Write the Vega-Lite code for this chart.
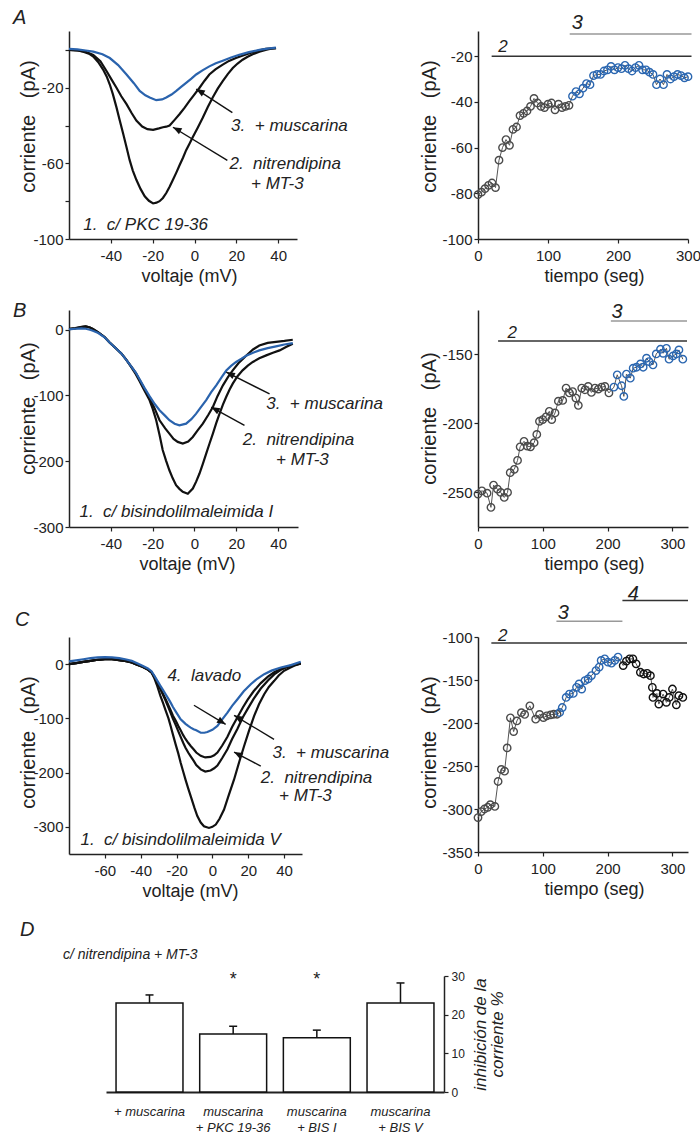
{
  "$schema": "https://vega.github.io/schema/vega-lite/v6.json",
  "background": "white",
  "padding": {"left": 13, "top": 8, "right": 5, "bottom": 5},
  "config": {
    "locale": {"number": {"decimal": ".", "thousands": ",", "grouping": [3], "currency": ["$", ""], "minus": "-"}},
    "font": "Liberation Sans",
    "view": {"stroke": null},
    "axis": {"grid": false, "domainColor": "#222", "domainWidth": 1.5, "tickColor": "#222", "tickWidth": 1.2, "tickSize": 4,
      "labelColor": "#222", "labelFontSize": 15, "labelFont": "Liberation Sans", "titleFont": "Liberation Sans",
      "titleColor": "#222", "titleFontWeight": "normal", "titleFontSize": 18, "labelFlush": false, "labelOverlap": false},
    "axisX": {"labelPadding": 5, "titlePadding": 4},
    "axisY": {"labelPadding": 2, "titlePadding": 2, "titleFontSize": 20},
    "title": {"font": "Liberation Sans", "fontWeight": "normal", "fontStyle": "italic", "color": "#222", "anchor": "start", "frame": "group", "baseline": "alphabetic"},
    "text": {"font": "Liberation Sans", "color": "#222"}
  },
  "datasets": {
    "ivA": [
      {"c":"1","v":-60,"i":0},{"c":"1","v":-56,"i":-0.3},{"c":"1","v":-53.2,"i":-0.9},{"c":"1","v":-50.5,"i":-2},{"c":"1","v":-48.4,"i":-3.5},{"c":"1","v":-46,"i":-6.5},{"c":"1","v":-43.7,"i":-10.4},{"c":"1","v":-42,"i":-14},{"c":"1","v":-40.5,"i":-18.3},{"c":"1","v":-39,"i":-23.5},{"c":"1","v":-37.3,"i":-30.4},{"c":"1","v":-35.7,"i":-37.5},{"c":"1","v":-34.1,"i":-44.3},{"c":"1","v":-32.5,"i":-51.5},{"c":"1","v":-31,"i":-58.3},{"c":"1","v":-29.5,"i":-63.8},{"c":"1","v":-27.8,"i":-68.7},{"c":"1","v":-25.8,"i":-73.5},{"c":"1","v":-23.8,"i":-77.4},{"c":"1","v":-21.8,"i":-79.8},{"c":"1","v":-19.8,"i":-81.2},{"c":"1","v":-18.2,"i":-80.8},{"c":"1","v":-16.7,"i":-80},{"c":"1","v":-15.1,"i":-78.3},{"c":"1","v":-13.5,"i":-75.7},{"c":"1","v":-11.9,"i":-72.4},{"c":"1","v":-10.3,"i":-68.7},{"c":"1","v":-8.7,"i":-64.9},{"c":"1","v":-7.1,"i":-60.9},{"c":"1","v":-5.5,"i":-57},{"c":"1","v":-4,"i":-53},{"c":"1","v":-2.4,"i":-49.6},{"c":"1","v":-0.8,"i":-46.1},{"c":"1","v":1.6,"i":-41},{"c":"1","v":4,"i":-35.7},{"c":"1","v":6.3,"i":-30.3},{"c":"1","v":8.7,"i":-25.2},{"c":"1","v":11.1,"i":-20.5},{"c":"1","v":13.5,"i":-16.5},{"c":"1","v":15.9,"i":-12.8},{"c":"1","v":18.3,"i":-9.6},{"c":"1","v":20.6,"i":-7.2},{"c":"1","v":23,"i":-5.2},{"c":"1","v":25.4,"i":-3.6},{"c":"1","v":27.8,"i":-2.3},{"c":"1","v":31,"i":-1},{"c":"1","v":34,"i":0},{"c":"1","v":36.5,"i":0.6},{"c":"1","v":39,"i":0.9},
      {"c":"2","v":-60,"i":0},{"c":"2","v":-56,"i":-0.2},{"c":"2","v":-52,"i":-1},{"c":"2","v":-48.4,"i":-2.6},{"c":"2","v":-45,"i":-6},{"c":"2","v":-42,"i":-11.3},{"c":"2","v":-39.5,"i":-16},{"c":"2","v":-37.3,"i":-20},{"c":"2","v":-35,"i":-24.5},{"c":"2","v":-32.5,"i":-28.7},{"c":"2","v":-30,"i":-33.5},{"c":"2","v":-27.8,"i":-37.4},{"c":"2","v":-25,"i":-40.5},{"c":"2","v":-22.5,"i":-41.9},{"c":"2","v":-19.8,"i":-42.3},{"c":"2","v":-17,"i":-41.5},{"c":"2","v":-15.1,"i":-40.9},{"c":"2","v":-13.5,"i":-40.6},{"c":"2","v":-11.9,"i":-40},{"c":"2","v":-9.5,"i":-37},{"c":"2","v":-7.1,"i":-33.9},{"c":"2","v":-4.7,"i":-30.5},{"c":"2","v":-2.4,"i":-27},{"c":"2","v":0,"i":-23.5},{"c":"2","v":2.4,"i":-20},{"c":"2","v":4.8,"i":-16.3},{"c":"2","v":7.1,"i":-13},{"c":"2","v":10,"i":-10.3},{"c":"2","v":13.5,"i":-7.8},{"c":"2","v":16.5,"i":-5.8},{"c":"2","v":19.8,"i":-4.3},{"c":"2","v":23.5,"i":-2.8},{"c":"2","v":27.8,"i":-1.2},{"c":"2","v":31,"i":-0.2},{"c":"2","v":34,"i":0.5},{"c":"2","v":38.9,"i":0.9},
      {"c":"3","v":-60,"i":0.5},{"c":"3","v":-56,"i":0.3},{"c":"3","v":-52,"i":-0.3},{"c":"3","v":-48.4,"i":-0.9},{"c":"3","v":-44,"i":-2.3},{"c":"3","v":-40.5,"i":-4.3},{"c":"3","v":-36.5,"i":-8},{"c":"3","v":-32.5,"i":-13},{"c":"3","v":-29,"i":-17.6},{"c":"3","v":-26.2,"i":-21.7},{"c":"3","v":-23.5,"i":-24},{"c":"3","v":-21.4,"i":-25.2},{"c":"3","v":-18.3,"i":-26.6},{"c":"3","v":-15.5,"i":-26.2},{"c":"3","v":-13.5,"i":-25.2},{"c":"3","v":-11,"i":-23.6},{"c":"3","v":-8.7,"i":-21.7},{"c":"3","v":-6.4,"i":-19.6},{"c":"3","v":-4,"i":-17.4},{"c":"3","v":-1.5,"i":-15.2},{"c":"3","v":0.8,"i":-13},{"c":"3","v":4,"i":-10.7},{"c":"3","v":7.1,"i":-8.7},{"c":"3","v":10.2,"i":-7.1},{"c":"3","v":13.5,"i":-5.7},{"c":"3","v":17.5,"i":-4},{"c":"3","v":21.4,"i":-2.6},{"c":"3","v":26,"i":-1.2},{"c":"3","v":31,"i":0},{"c":"3","v":35,"i":0.7},{"c":"3","v":38.9,"i":1.2}
    ],
    "ivB": [
      {"c":"1","v":-60,"i":1},{"c":"1","v":-57,"i":2},{"c":"1","v":-54,"i":4},{"c":"1","v":-52,"i":5},{"c":"1","v":-50,"i":3.5},{"c":"1","v":-48.6,"i":1},{"c":"1","v":-46,"i":-4},{"c":"1","v":-43,"i":-11},{"c":"1","v":-40.7,"i":-19},{"c":"1","v":-38,"i":-27},{"c":"1","v":-35,"i":-36},{"c":"1","v":-32.7,"i":-45},{"c":"1","v":-30,"i":-58},{"c":"1","v":-28,"i":-68},{"c":"1","v":-26.3,"i":-78},{"c":"1","v":-24,"i":-92},{"c":"1","v":-21.5,"i":-107},{"c":"1","v":-20,"i":-120},{"c":"1","v":-18.3,"i":-137.7},{"c":"1","v":-16.7,"i":-160},{"c":"1","v":-15.2,"i":-183},{"c":"1","v":-13.6,"i":-199},{"c":"1","v":-12,"i":-213.7},{"c":"1","v":-10.4,"i":-226},{"c":"1","v":-8.8,"i":-236.5},{"c":"1","v":-7.2,"i":-242},{"c":"1","v":-5.6,"i":-246.6},{"c":"1","v":-3.2,"i":-249.5},{"c":"1","v":-0.8,"i":-241.5},{"c":"1","v":0.8,"i":-231},{"c":"1","v":2.4,"i":-218.7},{"c":"1","v":4,"i":-204},{"c":"1","v":5.6,"i":-188.4},{"c":"1","v":7.2,"i":-173},{"c":"1","v":8.8,"i":-158},{"c":"1","v":10.4,"i":-142},{"c":"1","v":12,"i":-127.6},{"c":"1","v":13.6,"i":-114},{"c":"1","v":15.2,"i":-102},{"c":"1","v":16.8,"i":-91},{"c":"1","v":18.3,"i":-82},{"c":"1","v":20.5,"i":-71},{"c":"1","v":23,"i":-61.8},{"c":"1","v":25.5,"i":-54.5},{"c":"1","v":27.9,"i":-49},{"c":"1","v":31,"i":-43.5},{"c":"1","v":34.3,"i":-39},{"c":"1","v":37.5,"i":-35},{"c":"1","v":40.7,"i":-31.4},{"c":"1","v":44,"i":-26},{"c":"1","v":47,"i":-21.3},
      {"c":"2","v":-60,"i":1.5},{"c":"2","v":-57,"i":2.5},{"c":"2","v":-54,"i":4.5},{"c":"2","v":-52,"i":5},{"c":"2","v":-50,"i":3.5},{"c":"2","v":-48.6,"i":1},{"c":"2","v":-46,"i":-4},{"c":"2","v":-43,"i":-11},{"c":"2","v":-40.7,"i":-19},{"c":"2","v":-38,"i":-27},{"c":"2","v":-35,"i":-36},{"c":"2","v":-32.7,"i":-45.5},{"c":"2","v":-30,"i":-57},{"c":"2","v":-28,"i":-66},{"c":"2","v":-26.3,"i":-76},{"c":"2","v":-24,"i":-89},{"c":"2","v":-21.5,"i":-104},{"c":"2","v":-19,"i":-120},{"c":"2","v":-16.7,"i":-137.7},{"c":"2","v":-14,"i":-150},{"c":"2","v":-12,"i":-158},{"c":"2","v":-10,"i":-166},{"c":"2","v":-8,"i":-170.6},{"c":"2","v":-5.6,"i":-173},{"c":"2","v":-3,"i":-170},{"c":"2","v":-0.8,"i":-163},{"c":"2","v":1.5,"i":-153},{"c":"2","v":4,"i":-142.8},{"c":"2","v":6.5,"i":-130},{"c":"2","v":8.8,"i":-117.5},{"c":"2","v":11,"i":-101},{"c":"2","v":13.6,"i":-84.6},{"c":"2","v":16,"i":-72},{"c":"2","v":18.3,"i":-61.8},{"c":"2","v":21,"i":-51},{"c":"2","v":24.7,"i":-39.5},{"c":"2","v":28,"i":-30},{"c":"2","v":31,"i":-24},{"c":"2","v":35,"i":-20},{"c":"2","v":39,"i":-18.5},{"c":"2","v":43,"i":-17},{"c":"2","v":47,"i":-15.2},
      {"c":"3","v":-60,"i":0.5},{"c":"3","v":-57,"i":1.5},{"c":"3","v":-54,"i":2},{"c":"3","v":-52,"i":1.5},{"c":"3","v":-50,"i":0},{"c":"3","v":-48.6,"i":-1.5},{"c":"3","v":-46,"i":-5},{"c":"3","v":-43,"i":-11.5},{"c":"3","v":-40.7,"i":-19},{"c":"3","v":-38,"i":-27},{"c":"3","v":-35,"i":-36},{"c":"3","v":-32.7,"i":-45.5},{"c":"3","v":-30,"i":-57},{"c":"3","v":-28,"i":-65.5},{"c":"3","v":-26.3,"i":-75},{"c":"3","v":-24,"i":-88},{"c":"3","v":-21.5,"i":-101},{"c":"3","v":-19,"i":-113},{"c":"3","v":-16.7,"i":-122.5},{"c":"3","v":-14,"i":-131},{"c":"3","v":-12,"i":-137.7},{"c":"3","v":-9.5,"i":-143},{"c":"3","v":-7.2,"i":-145.3},{"c":"3","v":-4,"i":-142.8},{"c":"3","v":-1.5,"i":-136},{"c":"3","v":0.8,"i":-127.6},{"c":"3","v":3,"i":-118},{"c":"3","v":5.6,"i":-107},{"c":"3","v":8,"i":-95},{"c":"3","v":10.4,"i":-84.6},{"c":"3","v":13,"i":-72},{"c":"3","v":15.2,"i":-62},{"c":"3","v":17.5,"i":-55},{"c":"3","v":19.9,"i":-49},{"c":"3","v":22.5,"i":-44},{"c":"3","v":24.7,"i":-39.5},{"c":"3","v":28,"i":-35},{"c":"3","v":31,"i":-31.4},{"c":"3","v":35,"i":-28},{"c":"3","v":39,"i":-25.3},{"c":"3","v":43,"i":-22.5},{"c":"3","v":47,"i":-20.3}
    ],
    "ivC": [
      {"c":"1","v":-80,"i":0},{"c":"1","v":-76,"i":2},{"c":"1","v":-72,"i":4},{"c":"1","v":-68,"i":6},{"c":"1","v":-64,"i":8},{"c":"1","v":-60,"i":9},{"c":"1","v":-56,"i":9},{"c":"1","v":-52,"i":7.5},{"c":"1","v":-48,"i":5.5},{"c":"1","v":-45,"i":3},{"c":"1","v":-42,"i":-1},{"c":"1","v":-39,"i":-5},{"c":"1","v":-36,"i":-10},{"c":"1","v":-34,"i":-15},{"c":"1","v":-32.5,"i":-25},{"c":"1","v":-31,"i":-38},{"c":"1","v":-29,"i":-58.5},{"c":"1","v":-27.5,"i":-72},{"c":"1","v":-26,"i":-86},{"c":"1","v":-24.5,"i":-100},{"c":"1","v":-23.3,"i":-114},{"c":"1","v":-22,"i":-130},{"c":"1","v":-20.5,"i":-148},{"c":"1","v":-19,"i":-165},{"c":"1","v":-17.7,"i":-181.8},{"c":"1","v":-16.3,"i":-198},{"c":"1","v":-15,"i":-213},{"c":"1","v":-13.5,"i":-229},{"c":"1","v":-12.1,"i":-243.4},{"c":"1","v":-10,"i":-265},{"c":"1","v":-8.4,"i":-280},{"c":"1","v":-6.5,"i":-292},{"c":"1","v":-4.7,"i":-298.8},{"c":"1","v":-1.9,"i":-302},{"c":"1","v":0,"i":-300},{"c":"1","v":1.9,"i":-295.7},{"c":"1","v":4,"i":-285},{"c":"1","v":6.5,"i":-268},{"c":"1","v":9,"i":-243},{"c":"1","v":12.1,"i":-212.6},{"c":"1","v":15,"i":-180},{"c":"1","v":17.7,"i":-151},{"c":"1","v":20.5,"i":-122},{"c":"1","v":23.3,"i":-95.5},{"c":"1","v":26,"i":-74},{"c":"1","v":28.9,"i":-55.5},{"c":"1","v":31.5,"i":-42},{"c":"1","v":34.5,"i":-30.8},{"c":"1","v":37,"i":-21},{"c":"1","v":40,"i":-12.3},{"c":"1","v":43,"i":-7},{"c":"1","v":45.6,"i":-3},{"c":"1","v":49.3,"i":1.2},
      {"c":"2","v":-80,"i":0},{"c":"2","v":-76,"i":2},{"c":"2","v":-72,"i":4},{"c":"2","v":-68,"i":6},{"c":"2","v":-64,"i":8},{"c":"2","v":-60,"i":9},{"c":"2","v":-56,"i":9},{"c":"2","v":-52,"i":7.5},{"c":"2","v":-48,"i":5.5},{"c":"2","v":-45,"i":3},{"c":"2","v":-42,"i":-1},{"c":"2","v":-39,"i":-5},{"c":"2","v":-36,"i":-10},{"c":"2","v":-34,"i":-15},{"c":"2","v":-32.5,"i":-23},{"c":"2","v":-31,"i":-33},{"c":"2","v":-29,"i":-46},{"c":"2","v":-27.5,"i":-57},{"c":"2","v":-26,"i":-68},{"c":"2","v":-24.5,"i":-80},{"c":"2","v":-23.3,"i":-90},{"c":"2","v":-22,"i":-101},{"c":"2","v":-20.5,"i":-112},{"c":"2","v":-19,"i":-124},{"c":"2","v":-17.7,"i":-134},{"c":"2","v":-16.3,"i":-145},{"c":"2","v":-15,"i":-154},{"c":"2","v":-13.5,"i":-163},{"c":"2","v":-12.1,"i":-170},{"c":"2","v":-10.5,"i":-178},{"c":"2","v":-9,"i":-186},{"c":"2","v":-6.5,"i":-194},{"c":"2","v":-4,"i":-198},{"c":"2","v":-1,"i":-196},{"c":"2","v":1,"i":-192},{"c":"2","v":2.8,"i":-187},{"c":"2","v":5.5,"i":-173},{"c":"2","v":8.4,"i":-157},{"c":"2","v":11,"i":-138},{"c":"2","v":14,"i":-119},{"c":"2","v":17,"i":-98},{"c":"2","v":19.6,"i":-83},{"c":"2","v":23,"i":-64},{"c":"2","v":27,"i":-45},{"c":"2","v":31,"i":-30},{"c":"2","v":34.5,"i":-19},{"c":"2","v":38,"i":-11},{"c":"2","v":41.9,"i":-5},{"c":"2","v":46,"i":-1.5},{"c":"2","v":49.3,"i":1},
      {"c":"4","v":-80,"i":0},{"c":"4","v":-76,"i":2},{"c":"4","v":-72,"i":4},{"c":"4","v":-68,"i":6},{"c":"4","v":-64,"i":8},{"c":"4","v":-60,"i":9},{"c":"4","v":-56,"i":9},{"c":"4","v":-52,"i":7.5},{"c":"4","v":-48,"i":5.5},{"c":"4","v":-45,"i":3},{"c":"4","v":-42,"i":-1},{"c":"4","v":-39,"i":-5},{"c":"4","v":-36,"i":-10},{"c":"4","v":-34,"i":-15},{"c":"4","v":-32.5,"i":-22},{"c":"4","v":-31,"i":-32},{"c":"4","v":-29,"i":-45},{"c":"4","v":-27.5,"i":-55},{"c":"4","v":-26,"i":-65},{"c":"4","v":-24.5,"i":-76},{"c":"4","v":-23.3,"i":-85},{"c":"4","v":-22,"i":-95},{"c":"4","v":-20.5,"i":-104},{"c":"4","v":-19,"i":-114},{"c":"4","v":-17.7,"i":-122},{"c":"4","v":-16.3,"i":-131},{"c":"4","v":-15,"i":-138},{"c":"4","v":-13.5,"i":-145},{"c":"4","v":-12.1,"i":-151},{"c":"4","v":-10.5,"i":-157},{"c":"4","v":-9,"i":-163},{"c":"4","v":-6.5,"i":-169},{"c":"4","v":-4,"i":-172},{"c":"4","v":-1,"i":-171},{"c":"4","v":1,"i":-168},{"c":"4","v":2.8,"i":-163},{"c":"4","v":5.5,"i":-150},{"c":"4","v":8.4,"i":-134},{"c":"4","v":11,"i":-116},{"c":"4","v":14,"i":-98},{"c":"4","v":17,"i":-80},{"c":"4","v":19.6,"i":-66},{"c":"4","v":23,"i":-50},{"c":"4","v":27,"i":-35},{"c":"4","v":31,"i":-23},{"c":"4","v":34.5,"i":-15},{"c":"4","v":38,"i":-9},{"c":"4","v":41.9,"i":-4.3},{"c":"4","v":46,"i":-1},{"c":"4","v":49.3,"i":2},
      {"c":"3","v":-80,"i":5},{"c":"3","v":-76,"i":7},{"c":"3","v":-72,"i":9},{"c":"3","v":-68,"i":11},{"c":"3","v":-64,"i":12.5},{"c":"3","v":-60,"i":13},{"c":"3","v":-56,"i":12.5},{"c":"3","v":-52,"i":11},{"c":"3","v":-48,"i":8.5},{"c":"3","v":-45,"i":6},{"c":"3","v":-42,"i":1.5},{"c":"3","v":-39,"i":-3},{"c":"3","v":-36,"i":-8},{"c":"3","v":-34,"i":-13},{"c":"3","v":-32.6,"i":-20},{"c":"3","v":-31,"i":-29},{"c":"3","v":-29,"i":-40},{"c":"3","v":-27.5,"i":-48},{"c":"3","v":-26,"i":-56},{"c":"3","v":-24.5,"i":-64},{"c":"3","v":-23.3,"i":-71},{"c":"3","v":-22,"i":-79},{"c":"3","v":-20.5,"i":-87},{"c":"3","v":-19,"i":-95},{"c":"3","v":-17.7,"i":-101.7},{"c":"3","v":-16.3,"i":-106},{"c":"3","v":-15,"i":-110},{"c":"3","v":-13.5,"i":-114},{"c":"3","v":-12.1,"i":-117},{"c":"3","v":-10.5,"i":-120},{"c":"3","v":-9,"i":-122},{"c":"3","v":-6.5,"i":-126.3},{"c":"3","v":-4.5,"i":-126.5},{"c":"3","v":-2.8,"i":-125},{"c":"3","v":0,"i":-121},{"c":"3","v":2.8,"i":-114},{"c":"3","v":5.5,"i":-102},{"c":"3","v":8.4,"i":-89.3},{"c":"3","v":11,"i":-77},{"c":"3","v":14,"i":-64.7},{"c":"3","v":17.5,"i":-50},{"c":"3","v":21.4,"i":-37},{"c":"3","v":25,"i":-27},{"c":"3","v":28.9,"i":-18.5},{"c":"3","v":33,"i":-12},{"c":"3","v":38.2,"i":-6.2},{"c":"3","v":43.8,"i":-1.8},{"c":"3","v":49.3,"i":4.3}
    ],
    "tA": [
      {"p":"g","t":0,"i":-80.6},{"p":"g","t":5,"i":-79.5},{"p":"g","t":10,"i":-78},{"p":"g","t":15,"i":-76.5},{"p":"g","t":20,"i":-75.5},{"p":"g","t":25,"i":-77.5},{"p":"g","t":30,"i":-65.5},{"p":"g","t":35,"i":-60},{"p":"g","t":40,"i":-56.5},{"p":"g","t":45,"i":-59},{"p":"g","t":50,"i":-52},{"p":"g","t":55,"i":-51},{"p":"g","t":60,"i":-46},{"p":"g","t":65,"i":-45},{"p":"g","t":70,"i":-44},{"p":"g","t":75,"i":-42},{"p":"g","t":80,"i":-38.5},{"p":"g","t":85,"i":-40.5},{"p":"g","t":90,"i":-42},{"p":"g","t":95,"i":-42.5},{"p":"g","t":100,"i":-41},{"p":"g","t":105,"i":-40.5},{"p":"g","t":110,"i":-43.5},{"p":"g","t":115,"i":-41},{"p":"g","t":120,"i":-42.5},{"p":"g","t":125,"i":-42},{"p":"g","t":130,"i":-41.5},
      {"p":"b","t":135,"i":-37.5},{"p":"b","t":140,"i":-35.5},{"p":"b","t":145,"i":-36.5},{"p":"b","t":150,"i":-34},{"p":"b","t":155,"i":-32},{"p":"b","t":160,"i":-32.5},{"p":"b","t":165,"i":-28.5},{"p":"b","t":170,"i":-28},{"p":"b","t":175,"i":-28},{"p":"b","t":180,"i":-26.5},{"p":"b","t":185,"i":-26},{"p":"b","t":190,"i":-24.5},{"p":"b","t":195,"i":-26},{"p":"b","t":200,"i":-25},{"p":"b","t":205,"i":-25.5},{"p":"b","t":210,"i":-24},{"p":"b","t":215,"i":-25.5},{"p":"b","t":220,"i":-26.5},{"p":"b","t":225,"i":-25},{"p":"b","t":230,"i":-24},{"p":"b","t":235,"i":-26},{"p":"b","t":240,"i":-26},{"p":"b","t":245,"i":-27},{"p":"b","t":250,"i":-28},{"p":"b","t":255,"i":-32.5},{"p":"b","t":260,"i":-30},{"p":"b","t":265,"i":-32.5},{"p":"b","t":270,"i":-28},{"p":"b","t":275,"i":-30},{"p":"b","t":280,"i":-29},{"p":"b","t":285,"i":-28},{"p":"b","t":290,"i":-28.5},{"p":"b","t":295,"i":-29.5},{"p":"b","t":300,"i":-29}
    ],
    "tB": [
      {"p":"g","t":0,"i":-251.2},{"p":"g","t":6,"i":-248.8},{"p":"g","t":14,"i":-250.5},{"p":"g","t":20,"i":-260.8},{"p":"g","t":24,"i":-244.7},{"p":"g","t":30,"i":-247.6},{"p":"g","t":35,"i":-250},{"p":"g","t":40.5,"i":-253.6},{"p":"g","t":45.6,"i":-250},{"p":"g","t":49.7,"i":-235.7},{"p":"g","t":56,"i":-233.3},{"p":"g","t":61,"i":-226.8},{"p":"g","t":65,"i":-217},{"p":"g","t":71,"i":-213},{"p":"g","t":76,"i":-216.5},{"p":"g","t":81,"i":-217},{"p":"g","t":86.6,"i":-214},{"p":"g","t":90.7,"i":-208},{"p":"g","t":94.8,"i":-198.5},{"p":"g","t":99.9,"i":-197.3},{"p":"g","t":105,"i":-195.3},{"p":"g","t":110,"i":-191.3},{"p":"g","t":113.8,"i":-197.3},{"p":"g","t":118.8,"i":-192.5},{"p":"g","t":124,"i":-184},{"p":"g","t":130.7,"i":-183.4},{"p":"g","t":135.9,"i":-174.5},{"p":"g","t":141,"i":-178},{"p":"g","t":146,"i":-177},{"p":"g","t":151,"i":-181.7},{"p":"g","t":154.8,"i":-187},{"p":"g","t":160,"i":-174.5},{"p":"g","t":165,"i":-175.7},{"p":"g","t":170,"i":-173.3},{"p":"g","t":175,"i":-177.6},{"p":"g","t":180.5,"i":-174.5},{"p":"g","t":185.6,"i":-175.2},{"p":"g","t":190.7,"i":-173.8},{"p":"g","t":195.8,"i":-173.3},{"p":"g","t":202,"i":-178},
      {"p":"b","t":209.7,"i":-173.8},{"p":"b","t":214.8,"i":-164.9},{"p":"b","t":221.5,"i":-172.8},{"p":"b","t":225,"i":-180.5},{"p":"b","t":229,"i":-164.4},{"p":"b","t":235,"i":-167.3},{"p":"b","t":239.4,"i":-160.1},{"p":"b","t":244.6,"i":-159.4},{"p":"b","t":250.7,"i":-157},{"p":"b","t":254.8,"i":-159.4},{"p":"b","t":260,"i":-152.9},{"p":"b","t":264,"i":-155.3},{"p":"b","t":270,"i":-157.7},{"p":"b","t":275,"i":-149.8},{"p":"b","t":281.5,"i":-146.4},{"p":"b","t":285.6,"i":-149.3},{"p":"b","t":290.7,"i":-145.7},{"p":"b","t":294.8,"i":-153.6},{"p":"b","t":301,"i":-151.2},{"p":"b","t":306,"i":-149.8},{"p":"b","t":310,"i":-146.9},{"p":"b","t":316,"i":-153.6}
    ],
    "tC": [
      {"p":"g","t":0,"i":-310},{"p":"g","t":5,"i":-303},{"p":"g","t":10,"i":-300},{"p":"g","t":15,"i":-298},{"p":"g","t":19,"i":-295},{"p":"g","t":26,"i":-297},{"p":"g","t":31,"i":-268},{"p":"g","t":36,"i":-254},{"p":"g","t":41,"i":-256},{"p":"g","t":45,"i":-229},{"p":"g","t":50,"i":-194},{"p":"g","t":55,"i":-210},{"p":"g","t":60,"i":-197.6},{"p":"g","t":67,"i":-188},{"p":"g","t":72,"i":-190},{"p":"g","t":80,"i":-180},{"p":"g","t":89,"i":-195.6},{"p":"g","t":95,"i":-190},{"p":"g","t":101,"i":-193.7},{"p":"g","t":106,"i":-191.7},{"p":"g","t":112,"i":-190.6},{"p":"g","t":117,"i":-189.8},{"p":"g","t":122,"i":-189.8},
      {"p":"b","t":126,"i":-187.8},{"p":"b","t":130,"i":-182},{"p":"b","t":136,"i":-170.3},{"p":"b","t":141,"i":-166.4},{"p":"b","t":147,"i":-165.6},{"p":"b","t":152,"i":-158.5},{"p":"b","t":156,"i":-154.6},{"p":"b","t":160,"i":-160.5},{"p":"b","t":165,"i":-150.7},{"p":"b","t":170,"i":-148.8},{"p":"b","t":175,"i":-144.9},{"p":"b","t":182,"i":-139},{"p":"b","t":187,"i":-135},{"p":"b","t":190,"i":-127.3},{"p":"b","t":195.5,"i":-125.4},{"p":"b","t":200.6,"i":-129.3},{"p":"b","t":206,"i":-130.4},{"p":"b","t":211,"i":-127.3},{"p":"b","t":216,"i":-123.4},
      {"p":"k","t":224,"i":-133.2},{"p":"k","t":229,"i":-128},{"p":"k","t":234,"i":-125.4},{"p":"k","t":239,"i":-125.4},{"p":"k","t":244,"i":-131.2},{"p":"k","t":250.5,"i":-141},{"p":"k","t":255.6,"i":-143},{"p":"k","t":261,"i":-142.2},{"p":"k","t":266,"i":-145},{"p":"k","t":269,"i":-158.5},{"p":"k","t":270,"i":-170.3},{"p":"k","t":276,"i":-165.6},{"p":"k","t":279,"i":-178},{"p":"k","t":285.6,"i":-166.4},{"p":"k","t":290.7,"i":-176},{"p":"k","t":295,"i":-170.3},{"p":"k","t":300,"i":-160.5},{"p":"k","t":306,"i":-178.8},{"p":"k","t":310,"i":-168.3},{"p":"k","t":316,"i":-170.3}
    ],
    "bars": [
      {"g":"+ muscarina","m":23,"e":25.1},
      {"g":"muscarina|+ PKC 19-36","m":15,"e":17,"s":29},
      {"g":"muscarina|+ BIS I","m":14,"e":16,"s":29},
      {"g":"muscarina|+ BIS V","m":23,"e":28.2}
    ]
  },
  "vconcat": [
    {
      "vconcat": [
        {
          "vconcat": [
            {
              "hconcat": [
                {
                  "width": 228, "height": 208,
                  "title": {"text": "A", "fontSize": 20, "dx": -56, "offset": 3},
                  "encoding": {
                    "x": {"field": "v", "type": "quantitative", "scale": {"domain": [-60, 49], "nice": false, "zero": false},
                          "axis": {"values": [-40, -20, 0, 20, 40], "title": "voltaje (mV)", "titleX": 120}},
                    "y": {"field": "i", "type": "quantitative", "scale": {"domain": [-100, 10], "nice": false, "zero": false},
                          "axis": {"values": [-100, -80, -60, -40, -20, 0], "labelExpr": "datum.value % 40 === -20 ? datum.label : ''", "title": "corriente\u00a0\u00a0\u00a0(pA)", "titlePadding": -6, "titleY": 95}}
                  },
                  "layer": [
                    {"data": {"name": "ivA"}, "transform": [{"filter": "datum.c != '3'"}],
                     "mark": {"type": "line", "color": "#111", "strokeWidth": 2.2},
                     "encoding": {"detail": {"field": "c"}}},
                    {"data": {"name": "ivA"}, "transform": [{"filter": "datum.c == '3'"}],
                     "mark": {"type": "line", "color": "#2a63ad", "strokeWidth": 2.2}, "encoding": {}},
                    {"data": {"values": [{"v": 18.1, "i": -33.2, "v2": 0.8, "i2": -20.7}, {"v": 15.7, "i": -58.4, "v2": -10.3, "i2": -40.9}]},
                     "mark": {"type": "rule", "color": "#111", "strokeWidth": 1.4},
                     "encoding": {"x2": {"field": "v2"}, "y2": {"field": "i2"}}},
                    {"data": {"values": [{"v": 0.8, "i": -20.7}]},
                     "mark": {"type": "point", "shape": "M0,0L0.4,1L-0.4,1Z", "filled": true, "color": "#111", "opacity": 1, "size": 300, "angle": 301}, "encoding": {}},
                    {"data": {"values": [{"v": -10.3, "i": -40.9}]},
                     "mark": {"type": "point", "shape": "M0,0L0.4,1L-0.4,1Z", "filled": true, "color": "#111", "opacity": 1, "size": 300, "angle": 298}, "encoding": {}},
                    {"data": {"values": [
                       {"txt": "3.\u00a0\u00a0+ muscarina", "v": 17.5, "i": -40},
                       {"txt": "2.\u00a0\u00a0nitrendipina", "v": 16.7, "i": -60.2},
                       {"txt": "+ MT-3", "v": 27, "i": -70.7},
                       {"txt": "1.\u00a0\u00a0c/ PKC 19-36", "v": -53.2, "i": -92.6}]},
                     "mark": {"type": "text", "align": "left", "baseline": "middle", "fontSize": 17, "fontStyle": "italic"},
                     "encoding": {"text": {"field": "txt"}}}
                  ]
                },
                {
                  "width": 210, "height": 208,
                  "encoding": {
                    "x": {"field": "t", "type": "quantitative", "scale": {"domain": [0, 300], "nice": false, "zero": false},
                          "axis": {"values": [0, 100, 200, 300], "title": "tiempo (seg)", "titleX": 116}},
                    "y": {"field": "i", "type": "quantitative", "scale": {"domain": [-100, -9], "nice": false, "zero": false},
                          "axis": {"values": [-100, -80, -60, -40, -20], "title": "corriente\u00a0\u00a0\u00a0(pA)", "titlePadding": 2, "titleY": 95}}
                  },
                  "layer": [
                    {"data": {"name": "tA"}, "mark": {"type": "line", "color": "#555", "strokeWidth": 1}, "encoding": {}},
                    {"data": {"name": "tA"}, "transform": [{"filter": "datum.p == 'g'"}],
                     "mark": {"type": "point", "filled": false, "color": "#4a4a4a", "size": 55, "strokeWidth": 1.4, "opacity": 1}},
                    {"data": {"name": "tA"}, "transform": [{"filter": "datum.p == 'b'"}],
                     "mark": {"type": "point", "filled": false, "color": "#2a66b0", "size": 55, "strokeWidth": 1.4, "opacity": 1}},
                    {"data": {"values": [{"t": 19.5, "t2": 305, "i": -20}]},
                     "mark": {"type": "rule", "color": "#333", "strokeWidth": 1.5}, "encoding": {"x2": {"field": "t2"}}},
                    {"data": {"values": [{"t": 131, "t2": 305, "i": -10.3}]},
                     "mark": {"type": "rule", "color": "#999", "strokeWidth": 1.5}, "encoding": {"x2": {"field": "t2"}}},
                    {"data": {"values": [{"lab": "2", "t": 29, "i": -15.8}]},
                     "mark": {"type": "text", "align": "left", "baseline": "middle", "fontSize": 17, "fontStyle": "italic"},
                     "encoding": {"text": {"field": "lab"}}},
                    {"data": {"values": [{"lab": "3", "t": 133.8, "i": -5.7}]},
                     "mark": {"type": "text", "align": "left", "baseline": "middle", "fontSize": 20, "fontStyle": "italic"},
                     "encoding": {"text": {"field": "lab"}}}
                  ]
                }
              ],
              "spacing": 181, "bounds": "flush"
            },
            {
              "hconcat": [
                {
                  "width": 229, "height": 217,
                  "title": {"text": "B", "fontSize": 20, "dx": -56, "offset": -11},
                  "encoding": {
                    "x": {"field": "v", "type": "quantitative", "scale": {"domain": [-60, 49.5], "nice": false, "zero": false},
                          "axis": {"values": [-40, -20, 0, 20, 40], "title": "voltaje (mV)", "titleX": 118}},
                    "y": {"field": "i", "type": "quantitative", "scale": {"domain": [-300, 30], "nice": false, "zero": false},
                          "axis": {"values": [0, -100, -200, -300], "title": "corriente\u00a0\u00a0\u00a0(pA)", "titlePadding": -6, "titleY": 98}}
                  },
                  "layer": [
                    {"data": {"name": "ivB"}, "transform": [{"filter": "datum.c != '3'"}],
                     "mark": {"type": "line", "color": "#111", "strokeWidth": 2.2},
                     "encoding": {"detail": {"field": "c"}}},
                    {"data": {"name": "ivB"}, "transform": [{"filter": "datum.c == '3'"}],
                     "mark": {"type": "line", "color": "#2a63ad", "strokeWidth": 2.2}, "encoding": {}},
                    {"data": {"values": [{"v": 35.9, "i": -97.7, "v2": 15.2, "i2": -64.4}, {"v": 23.9, "i": -145.4, "v2": 8, "i2": -117.6}]},
                     "mark": {"type": "rule", "color": "#111", "strokeWidth": 1.4},
                     "encoding": {"x2": {"field": "v2"}, "y2": {"field": "i2"}}},
                    {"data": {"values": [{"v": 15.2, "i": -64.4}]},
                     "mark": {"type": "point", "shape": "M0,0L0.4,1L-0.4,1Z", "filled": true, "color": "#111", "opacity": 1, "size": 300, "angle": 297}, "encoding": {}},
                    {"data": {"values": [{"v": 8, "i": -117.6}]},
                     "mark": {"type": "point", "shape": "M0,0L0.4,1L-0.4,1Z", "filled": true, "color": "#111", "opacity": 1, "size": 300, "angle": 299}, "encoding": {}},
                    {"data": {"values": [
                       {"txt": "3.\u00a0\u00a0+ muscarina", "v": 34.3, "i": -113.5},
                       {"txt": "2.\u00a0\u00a0nitrendipina", "v": 23.1, "i": -168},
                       {"txt": "+ MT-3", "v": 39, "i": -198.6},
                       {"txt": "1.\u00a0\u00a0c/ bisindolilmaleimida I", "v": -55, "i": -277}]},
                     "mark": {"type": "text", "align": "left", "baseline": "middle", "fontSize": 17, "fontStyle": "italic"},
                     "encoding": {"text": {"field": "txt"}}}
                  ]
                },
                {
                  "width": 210, "height": 217,
                  "encoding": {
                    "x": {"field": "t", "type": "quantitative", "scale": {"domain": [0, 324], "nice": false, "zero": false},
                          "axis": {"values": [0, 100, 200, 300], "title": "tiempo (seg)", "titleX": 116}},
                    "y": {"field": "i", "type": "quantitative", "scale": {"domain": [-275, -118], "nice": false, "zero": false},
                          "axis": {"values": [-150, -200, -250], "title": "corriente\u00a0\u00a0\u00a0(pA)", "titlePadding": 2, "titleY": 108}}
                  },
                  "layer": [
                    {"data": {"name": "tB"}, "mark": {"type": "line", "color": "#555", "strokeWidth": 1}, "encoding": {}},
                    {"data": {"name": "tB"}, "transform": [{"filter": "datum.p == 'g'"}],
                     "mark": {"type": "point", "filled": false, "color": "#4a4a4a", "size": 55, "strokeWidth": 1.4, "opacity": 1}},
                    {"data": {"name": "tB"}, "transform": [{"filter": "datum.p == 'b'"}],
                     "mark": {"type": "point", "filled": false, "color": "#2a66b0", "size": 55, "strokeWidth": 1.4, "opacity": 1}},
                    {"data": {"values": [{"t": 31, "t2": 322.5, "i": -140.4}]},
                     "mark": {"type": "rule", "color": "#333", "strokeWidth": 1.5}, "encoding": {"x2": {"field": "t2"}}},
                    {"data": {"values": [{"t": 205, "t2": 322.5, "i": -125.9}]},
                     "mark": {"type": "rule", "color": "#999", "strokeWidth": 1.5}, "encoding": {"x2": {"field": "t2"}}},
                    {"data": {"values": [{"lab": "2", "t": 45.5, "i": -134.8}]},
                     "mark": {"type": "text", "align": "left", "baseline": "middle", "fontSize": 17, "fontStyle": "italic"},
                     "encoding": {"text": {"field": "lab"}}},
                    {"data": {"values": [{"lab": "3", "t": 206, "i": -119.8}]},
                     "mark": {"type": "text", "align": "left", "baseline": "middle", "fontSize": 20, "fontStyle": "italic"},
                     "encoding": {"text": {"field": "lab"}}}
                  ]
                }
              ],
              "spacing": 180, "bounds": "flush"
            }
          ],
          "spacing": 16
        },
        {
          "hconcat": [
            {
              "width": 233, "height": 217,
              "title": {"text": "C", "fontSize": 20, "dx": -54, "offset": 7},
              "encoding": {
                "x": {"field": "v", "type": "quantitative", "scale": {"domain": [-80, 50], "nice": false, "zero": false},
                      "axis": {"values": [-60, -40, -20, 0, 20, 40], "title": "voltaje (mV)", "titleX": 121}},
                "y": {"field": "i", "type": "quantitative", "scale": {"domain": [-350, 50], "nice": false, "zero": false},
                      "axis": {"values": [0, -100, -200, -300], "title": "corriente\u00a0\u00a0\u00a0(pA)", "titlePadding": -6, "titleY": 105}}
              },
              "layer": [
                {"data": {"name": "ivC"}, "transform": [{"filter": "datum.c != '3'"}],
                 "mark": {"type": "line", "color": "#111", "strokeWidth": 2.2},
                 "encoding": {"detail": {"field": "c"}}},
                {"data": {"name": "ivC"}, "transform": [{"filter": "datum.c == '3'"}],
                 "mark": {"type": "line", "color": "#2a63ad", "strokeWidth": 2.2}, "encoding": {}},
                {"data": {"values": [{"v": 34.4, "i": -138.6, "v2": 12.1, "i2": -94.3}, {"v": 27, "i": -188, "v2": 12.1, "i2": -162.1}, {"v": -10.3, "i": -75.8, "v2": 7.4, "i2": -110.9}]},
                 "mark": {"type": "rule", "color": "#111", "strokeWidth": 1.4},
                 "encoding": {"x2": {"field": "v2"}, "y2": {"field": "i2"}}},
                {"data": {"values": [{"v": 12.1, "i": -94.3}]},
                 "mark": {"type": "point", "shape": "M0,0L0.4,1L-0.4,1Z", "filled": true, "color": "#111", "opacity": 1, "size": 300, "angle": 301}, "encoding": {}},
                {"data": {"values": [{"v": 12.1, "i": -162.1}]},
                 "mark": {"type": "point", "shape": "M0,0L0.4,1L-0.4,1Z", "filled": true, "color": "#111", "opacity": 1, "size": 300, "angle": 298}, "encoding": {}},
                {"data": {"values": [{"v": 7.4, "i": -110.9}]},
                 "mark": {"type": "point", "shape": "M0,0L0.4,1L-0.4,1Z", "filled": true, "color": "#111", "opacity": 1, "size": 300, "angle": 121}, "encoding": {}},
                {"data": {"values": [
                   {"txt": "4.\u00a0\u00a0lavado", "v": -25.1, "i": -21.6},
                   {"txt": "3.\u00a0\u00a0+ muscarina", "v": 33.5, "i": -163},
                   {"txt": "2.\u00a0\u00a0nitrendipina", "v": 27, "i": -209},
                   {"txt": "+ MT-3", "v": 37.2, "i": -243},
                   {"txt": "1.\u00a0\u00a0c/ bisindolilmaleimida V", "v": -73.6, "i": -323.5}]},
                 "mark": {"type": "text", "align": "left", "baseline": "middle", "fontSize": 17, "fontStyle": "italic"},
                 "encoding": {"text": {"field": "txt"}}}
              ]
            },
            {
              "width": 210, "height": 215,
              "encoding": {
                "x": {"field": "t", "type": "quantitative", "scale": {"domain": [0, 324], "nice": false, "zero": false},
                      "axis": {"values": [0, 100, 200, 300], "title": "tiempo (seg)", "titleX": 116}},
                "y": {"field": "i", "type": "quantitative", "scale": {"domain": [-350, -100], "nice": false, "zero": false},
                      "axis": {"values": [-100, -150, -200, -250, -300, -350], "title": "corriente\u00a0\u00a0\u00a0(pA)", "titlePadding": 2, "titleY": 105}}
              },
              "layer": [
                {"data": {"name": "tC"}, "mark": {"type": "line", "color": "#555", "strokeWidth": 1}, "encoding": {}},
                {"data": {"name": "tC"}, "transform": [{"filter": "datum.p == 'g'"}],
                 "mark": {"type": "point", "filled": false, "color": "#4a4a4a", "size": 55, "strokeWidth": 1.4, "opacity": 1}},
                {"data": {"name": "tC"}, "transform": [{"filter": "datum.p == 'b'"}],
                 "mark": {"type": "point", "filled": false, "color": "#2a66b0", "size": 55, "strokeWidth": 1.4, "opacity": 1}},
                {"data": {"name": "tC"}, "transform": [{"filter": "datum.p == 'k'"}],
                 "mark": {"type": "point", "filled": false, "color": "#111", "size": 55, "strokeWidth": 1.4, "opacity": 1}},
                {"data": {"values": [{"t": 20.6, "t2": 322.5, "i": -107}, {"t": 222.8, "t2": 324, "i": -57.5}]},
                 "mark": {"type": "rule", "color": "#333", "strokeWidth": 1.5}, "encoding": {"x2": {"field": "t2"}}},
                {"data": {"values": [{"t": 121, "t2": 222.8, "i": -81.6}]},
                 "mark": {"type": "rule", "color": "#999", "strokeWidth": 1.5}, "encoding": {"x2": {"field": "t2"}}},
                {"data": {"values": [{"lab": "2", "t": 30.9, "i": -98.8}]},
                 "mark": {"type": "text", "align": "left", "baseline": "middle", "fontSize": 17, "fontStyle": "italic"},
                 "encoding": {"text": {"field": "lab"}}},
                {"data": {"values": [{"lab": "3", "t": 123, "i": -71.7}, {"lab": "4", "t": 231, "i": -49.6}]},
                 "mark": {"type": "text", "align": "left", "baseline": "middle", "fontSize": 20, "fontStyle": "italic"},
                 "encoding": {"text": {"field": "lab"}}}
              ]
            }
          ],
          "spacing": 176, "bounds": "flush"
        }
      ],
      "spacing": 10
    },
    {
      "title": {"text": "D", "fontSize": 20, "frame": "bounds", "dx": -43, "offset": 8},
      "vconcat": [
        {
          "width": 375, "height": 116,
          "title": {"text": "c/ nitrendipina + MT-3", "fontSize": 14, "dx": -6, "offset": 8},
          "data": {"name": "bars"},
          "encoding": {
            "x": {"field": "g", "type": "nominal", "sort": null, "scale": {"range": [37, 375], "paddingInner": 0.2, "paddingOuter": 0.12},
                  "axis": {"title": null, "labelAngle": 0, "ticks": false, "labelExpr": "split(datum.label, '|')", "labelFontStyle": "italic", "labelFontSize": 13, "labelPadding": 13, "labelLineHeight": 16, "domainWidth": 2}},
            "y": {"field": "m", "type": "quantitative", "scale": {"domain": [0, 30], "nice": false},
                  "axis": {"orient": "right", "values": [0, 10, 20, 30], "title": ["inhibición de la", "corriente %"], "titleAngle": 270, "titleFontStyle": "italic", "titleFontSize": 17, "titleLineHeight": 17, "titlePadding": 8, "labelFontSize": 12, "labelPadding": 3}}
          },
          "layer": [
            {"mark": {"type": "bar", "fill": "white", "stroke": "#111", "strokeWidth": 1.5}},
            {"mark": {"type": "rule", "color": "#111", "strokeWidth": 1.5}, "encoding": {"y2": {"field": "e"}}},
            {"mark": {"type": "tick", "orient": "horizontal", "size": 8, "thickness": 1.5, "color": "#111", "opacity": 1},
             "encoding": {"y": {"field": "e", "type": "quantitative"}}},
            {"transform": [{"filter": "isValid(datum.s)"}],
             "mark": {"type": "text", "text": "*", "fontSize": 18, "baseline": "middle"},
             "encoding": {"y": {"field": "s", "type": "quantitative"}}}
          ]
        }
      ]
    }
  ],
  "spacing": 20
}
